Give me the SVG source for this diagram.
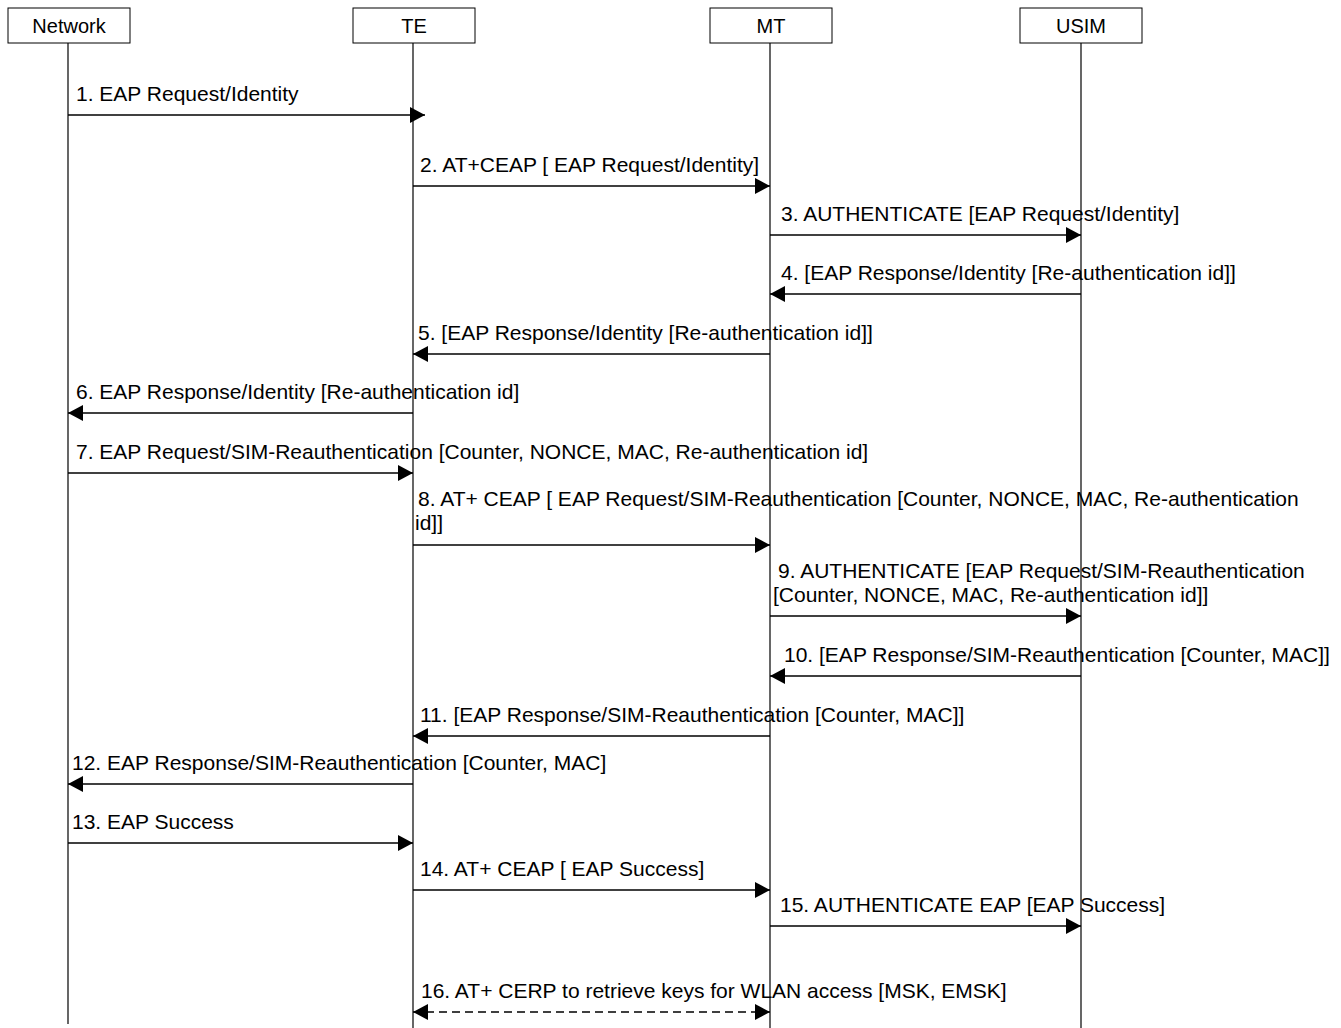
<svg xmlns="http://www.w3.org/2000/svg" width="1341" height="1028" viewBox="0 0 1341 1028">
<style>
.box{fill:#fff;stroke:#000;stroke-width:1}
.life{stroke:#000;stroke-width:1.2;fill:none}
.msg{stroke:#000;stroke-width:1.5;fill:none}
.dash{stroke-dasharray:8,5}
text{font-family:"Liberation Sans",Arial,sans-serif;font-size:21px;fill:#000}
.h{font-size:20px;text-anchor:middle}
</style>
<defs>
<marker id="ah" markerUnits="userSpaceOnUse" markerWidth="15" markerHeight="16" refX="15" refY="8" orient="auto-start-reverse" viewBox="0 0 15 16">
<path d="M0,0 L15,8 L0,16 Z" fill="#000"/>
</marker>
</defs>
<g id="network">
<rect class="box" x="8" y="8" width="122" height="35"/>
<text class="h" x="69" y="33">Network</text>
<line class="life" x1="68" y1="43" x2="68" y2="1024"/>
</g>
<g id="te">
<rect class="box" x="353" y="8" width="122" height="35"/>
<text class="h" x="414" y="33">TE</text>
<line class="life" x1="413" y1="43" x2="413" y2="1028"/>
</g>
<g id="mt">
<rect class="box" x="710" y="8" width="122" height="35"/>
<text class="h" x="771" y="33">MT</text>
<line class="life" x1="770" y1="43" x2="770" y2="1028"/>
</g>
<g id="usim">
<rect class="box" x="1020" y="8" width="122" height="35"/>
<text class="h" x="1081" y="33">USIM</text>
<line class="life" x1="1081" y1="43" x2="1081" y2="1028"/>
</g>
<g id="connectors">
<line class="msg" x1="68" y1="115" x2="425" y2="115" marker-end="url(#ah)"/>
<text x="76" y="101">1. EAP Request/Identity</text>
<line class="msg" x1="413" y1="186" x2="770" y2="186" marker-end="url(#ah)"/>
<text x="420" y="172">2. AT+CEAP [ EAP Request/Identity]</text>
<line class="msg" x1="770" y1="235" x2="1081" y2="235" marker-end="url(#ah)"/>
<text x="781" y="221">3. AUTHENTICATE [EAP Request/Identity]</text>
<line class="msg" x1="1081" y1="294" x2="770" y2="294" marker-end="url(#ah)"/>
<text x="781" y="280">4. [EAP Response/Identity [Re-authentication id]]</text>
<line class="msg" x1="770" y1="354" x2="413" y2="354" marker-end="url(#ah)"/>
<text x="418" y="340">5. [EAP Response/Identity [Re-authentication id]]</text>
<line class="msg" x1="413" y1="413" x2="68" y2="413" marker-end="url(#ah)"/>
<text x="76" y="399">6. EAP Response/Identity [Re-authentication id]</text>
<line class="msg" x1="68" y1="473" x2="413" y2="473" marker-end="url(#ah)"/>
<text x="76" y="459">7. EAP Request/SIM-Reauthentication [Counter, NONCE, MAC, Re-authentication id]</text>
<line class="msg" x1="413" y1="545" x2="770" y2="545" marker-end="url(#ah)"/>
<text x="418" y="506">8. AT+ CEAP [ EAP Request/SIM-Reauthentication [Counter, NONCE, MAC, Re-authentication</text>
<text x="415" y="530">id]]</text>
<line class="msg" x1="770" y1="616" x2="1081" y2="616" marker-end="url(#ah)"/>
<text x="778" y="578">9. AUTHENTICATE [EAP Request/SIM-Reauthentication</text>
<text x="773" y="602">[Counter, NONCE, MAC, Re-authentication id]]</text>
<line class="msg" x1="1081" y1="676" x2="770" y2="676" marker-end="url(#ah)"/>
<text x="784" y="662">10. [EAP Response/SIM-Reauthentication [Counter, MAC]]</text>
<line class="msg" x1="770" y1="736" x2="413" y2="736" marker-end="url(#ah)"/>
<text x="420" y="722">11. [EAP Response/SIM-Reauthentication [Counter, MAC]]</text>
<line class="msg" x1="413" y1="784" x2="68" y2="784" marker-end="url(#ah)"/>
<text x="72" y="770">12. EAP Response/SIM-Reauthentication [Counter, MAC]</text>
<line class="msg" x1="68" y1="843" x2="413" y2="843" marker-end="url(#ah)"/>
<text x="72" y="829">13. EAP Success</text>
<line class="msg" x1="413" y1="890" x2="770" y2="890" marker-end="url(#ah)"/>
<text x="420" y="876">14. AT+ CEAP [ EAP Success]</text>
<line class="msg" x1="770" y1="926" x2="1081" y2="926" marker-end="url(#ah)"/>
<text x="780" y="912">15. AUTHENTICATE EAP [EAP Success]</text>
<line class="msg dash" x1="413" y1="1012" x2="770" y2="1012" marker-start="url(#ah)" marker-end="url(#ah)"/>
<text x="421" y="998">16. AT+ CERP to retrieve keys for WLAN access [MSK, EMSK]</text>
</g>
</svg>
